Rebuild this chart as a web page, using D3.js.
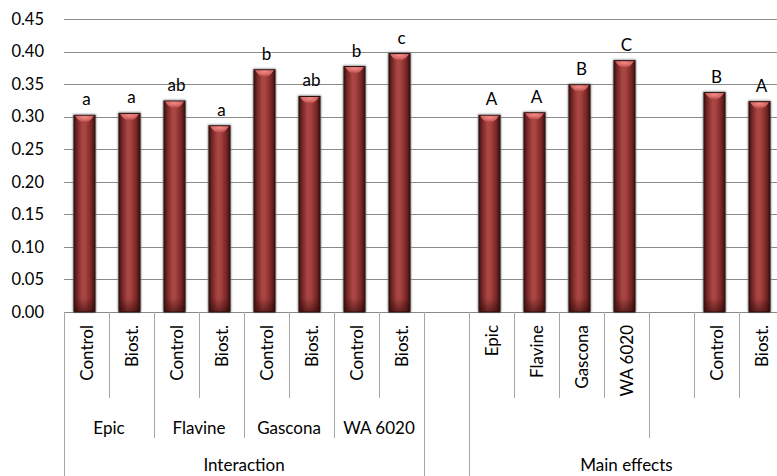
<!DOCTYPE html>
<html>
<head>
<meta charset="utf-8">
<script src="https://cdn.jsdelivr.net/npm/d3@7"></script>
<style>
  html, body { margin: 0; padding: 0; background: #fff; }
  svg text { font-family: Lato, "Open Sans", sans-serif; fill: #000; }
</style>
</head>
<body>
<svg id="chart" width="777" height="476"></svg>
<script>
// Category slots (an empty string is a spacer slot)
const categories = ["Control", "Biost.", "Control", "Biost.", "Control", "Biost.", "Control", "Biost.",
                    "", "Epic", "Flavine", "Gascona", "WA 6020", "", "Control", "Biost."];
// Bar values per slot (null = no bar)
const values = [0.302, 0.305, 0.324, 0.286, 0.372, 0.331, 0.377, 0.397,
                null, 0.302, 0.306, 0.349, 0.386, null, 0.337, 0.323];
// Significance letters per slot
const letters = ["a", "a", "ab", "a", "b", "ab", "b", "c",
                 "", "A", "A", "B", "C", "", "B", "A"];
// Second-level groups: [label, first slot, end slot]
const groups2 = [["Epic", 0, 2], ["Flavine", 2, 4], ["Gascona", 4, 6], ["WA 6020", 6, 8],
                 ["", 8, 9], ["", 9, 13], ["", 13, 16]];
// Third-level groups
const groups3 = [["Interaction", 0, 8], ["", 8, 9], ["Main effects", 9, 16]];
// Y axis ticks
const yTicks = [0, 0.05, 0.10, 0.15, 0.20, 0.25, 0.30, 0.35, 0.40, 0.45];

const svg = d3.select("#chart");
const left = 64, slot = 45, fs = 17;
const x = d3.scaleBand().domain(d3.range(categories.length))
  .range([left, left + slot * categories.length]).padding(0);
const y = d3.scaleLinear().domain([0, 0.45]).range([312, 19]);

// Gradients for the cylinder-like bars
const defs = svg.append("defs");
const body = defs.append("linearGradient").attr("id", "barBody")
  .attr("x1", "0").attr("x2", "1").attr("y1", "0").attr("y2", "0");
[[0, "#3f100f"], [0.12, "#6e2220"], [0.4, "#aa4644"], [0.55, "#a74341"], [0.82, "#7a2725"], [1, "#3c0f0e"]]
  .forEach(([o, c]) => body.append("stop").attr("offset", o).attr("stop-color", c));
const cap = defs.append("radialGradient").attr("id", "barCap")
  .attr("cx", "0.5").attr("cy", "0.2").attr("r", "0.7");
[[0, "#f08a86"], [0.6, "#d46662"], [1, "#a94543"]]
  .forEach(([o, c]) => cap.append("stop").attr("offset", o).attr("stop-color", c));
const base = defs.append("linearGradient").attr("id", "barBase")
  .attr("x1", "0").attr("x2", "0").attr("y1", "0").attr("y2", "1");
[[0, "rgba(40,5,5,0)"], [1, "rgba(40,5,5,0.55)"]]
  .forEach(([o, c]) => base.append("stop").attr("offset", o).attr("stop-color", c));
const blur = defs.append("filter").attr("id", "shadow")
  .attr("x", "-50%").attr("y", "-10%").attr("width", "200%").attr("height", "120%");
blur.append("feGaussianBlur").attr("stdDeviation", 1.3);

// Gridlines and y tick labels
const yAxis = d3.axisLeft(y).tickValues(yTicks).tickFormat(d3.format(".2f"))
  .tickSizeInner(-(slot * categories.length)).tickSizeOuter(0).tickPadding(20);
const gy = svg.append("g").attr("transform", `translate(${left},0)`).call(yAxis);
gy.select(".domain").remove();
gy.selectAll(".tick line").attr("stroke", "#8a8a8a").attr("stroke-width", 1)
  .attr("shape-rendering", "crispEdges");
gy.selectAll(".tick text").attr("font-size", 16.5).attr("fill", "#000");

// Category axis: baseline and boundary lines of depth by level
const axisColor = "#a6a6a6";
const yRow1 = 398, yRow2 = 438, yRow3 = 476;
const boundaries = d3.range(categories.length + 1).map(i => {
  let depth = yRow1;
  if (groups2.some(g => g[1] === i || g[2] === i)) depth = yRow2;
  if (groups3.some(g => g[1] === i || g[2] === i) || i === 0) depth = yRow3;
  return { i, depth };
});
const gx = svg.append("g").attr("shape-rendering", "crispEdges");
gx.append("line").attr("x1", left).attr("x2", left + slot * categories.length)
  .attr("y1", y(0) + 0.5).attr("y2", y(0) + 0.5).attr("stroke", "#8a8a8a");
gx.selectAll("line.sep").data(boundaries).join("line").attr("class", "sep")
  .attr("x1", d => Math.round(x(0) + d.i * x.bandwidth()) + 0.5)
  .attr("x2", d => Math.round(x(0) + d.i * x.bandwidth()) + 0.5)
  .attr("y1", y(0)).attr("y2", d => d.depth)
  .attr("stroke", axisColor);

// Rotated first-level labels
svg.append("g").selectAll("text").data(categories.map((c, i) => ({ c, i })).filter(d => d.c))
  .join("text")
  .attr("transform", d => `translate(${x(d.i) + x.bandwidth() / 2 + 6},${y(0) + 13}) rotate(-90)`)
  .attr("text-anchor", "end").attr("font-size", fs).text(d => d.c);

// Second- and third-level labels
svg.append("g").selectAll("text").data(groups2.filter(g => g[0])).join("text")
  .attr("x", g => (x(g[1]) + x(g[2] - 1) + x.bandwidth()) / 2).attr("y", 434)
  .attr("text-anchor", "middle").attr("font-size", fs).text(g => g[0]);
svg.append("g").selectAll("text").data(groups3.filter(g => g[0])).join("text")
  .attr("x", g => (x(g[1]) + x(g[2] - 1) + x.bandwidth()) / 2).attr("y", 471)
  .attr("text-anchor", "middle").attr("font-size", fs).text(g => g[0]);

// Bars
const barW = 21;
const bars = svg.append("g").selectAll("g").data(values.map((v, i) => ({ v, i })).filter(d => d.v != null))
  .join("g").attr("transform", d => `translate(${x(d.i) + x.bandwidth() / 2 - 2 - barW / 2},0)`);
bars.append("rect").attr("x", -1).attr("y", d => y(d.v) - 1)
  .attr("width", barW + 2).attr("height", d => y(0) - y(d.v) + 1)
  .attr("fill", "#7a7a7a").attr("filter", "url(#shadow)");
bars.append("rect").attr("x", 0).attr("y", d => y(d.v))
  .attr("width", barW).attr("height", d => y(0) - y(d.v))
  .attr("fill", "url(#barBody)").attr("stroke", "#2b1515").attr("stroke-width", 1);
bars.append("rect").attr("x", 0.5).attr("y", d => y(0) - 14)
  .attr("width", barW - 1).attr("height", 14).attr("fill", "url(#barBase)");
bars.append("path")
  .attr("d", d => { const t = y(d.v) + 0.5; return `M1,${t} L${barW - 1},${t} Q${barW / 2},${t + 14} 1,${t} Z`; })
  .attr("fill", "url(#barCap)");

// Significance letters above bars
svg.append("g").selectAll("text").data(values.map((v, i) => ({ v, i, l: letters[i] })).filter(d => d.v != null))
  .join("text")
  .attr("x", d => x(d.i) + x.bandwidth() / 2).attr("y", d => y(d.v) - 10)
  .attr("text-anchor", "middle").attr("font-size", fs).text(d => d.l);
</script>
</body>
</html>
